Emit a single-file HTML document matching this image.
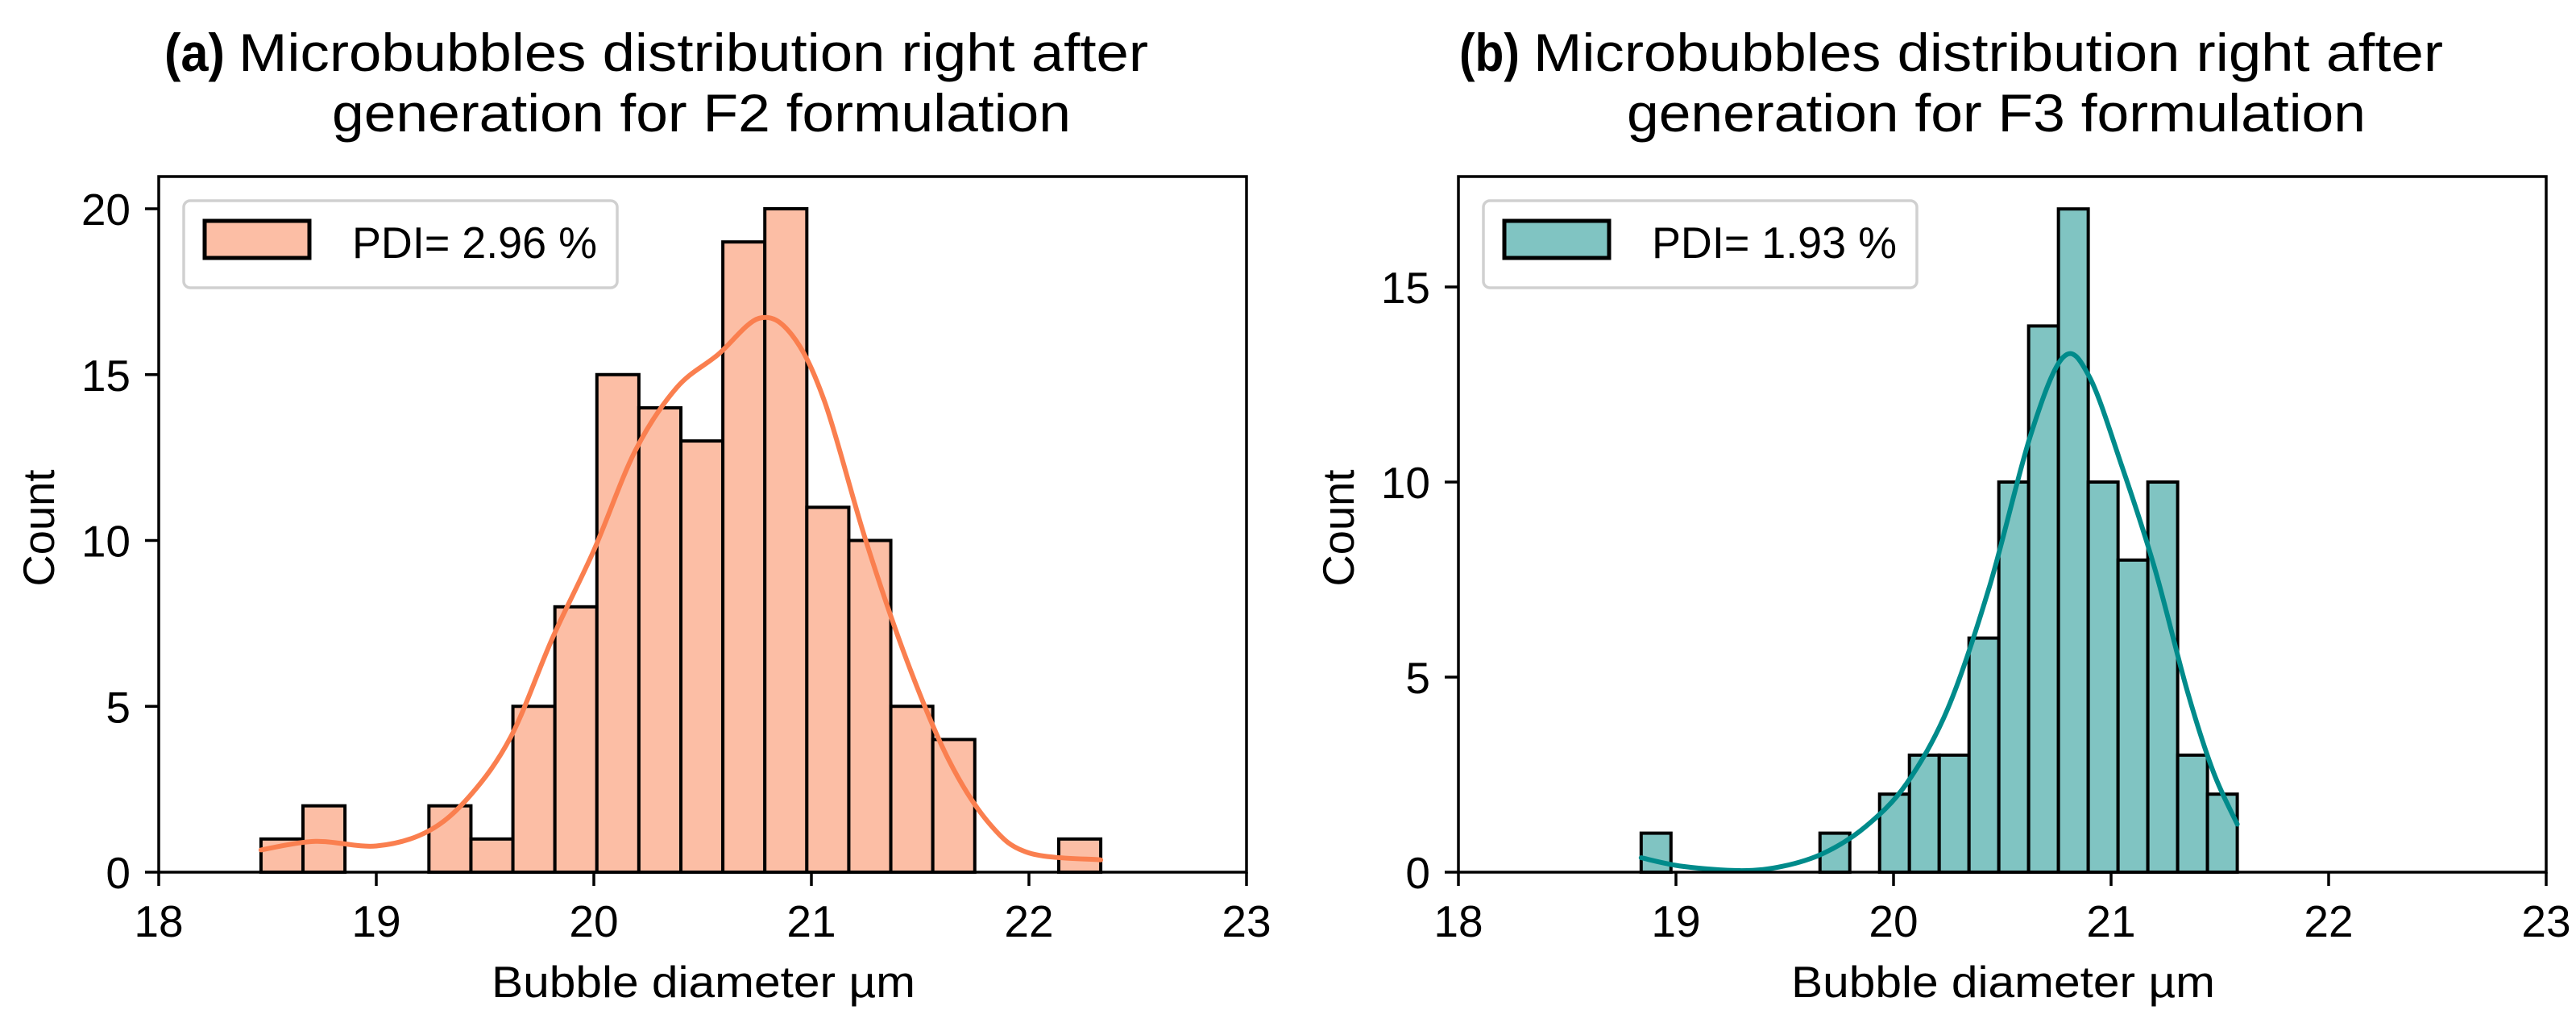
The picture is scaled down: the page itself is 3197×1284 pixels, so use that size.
<!DOCTYPE html>
<html><head><meta charset="utf-8"><style>
html,body{margin:0;padding:0;background:#fff;}
svg text{font-family:"Liberation Sans",sans-serif;fill:#000;}
</style></head><body>
<svg id="fig" width="3197" height="1279" viewBox="0 0 3197 1279" xmlns="http://www.w3.org/2000/svg"></svg>
<script>
// ---- Panel A data ----
const binStartA = 18.47;
const binWidthA = 0.193;
const countsA = [1,2,0,0,2,1,5,8,15,14,13,19,20,11,10,5,4,0,0,1];
const kdeXA = [18.47,18.72,19.0,19.24,19.43,19.62,19.81,20.0,20.19,20.38,20.57,20.76,20.91,21.06,21.25,21.44,21.63,21.82,22.0,22.33];
const kdeYA = [0.67,0.93,0.79,1.24,2.3,4.1,7.06,9.7,12.7,14.6,15.6,16.7,16.2,14.2,10.0,6.36,3.4,1.45,0.58,0.37];
const yTicksA = [0,5,10,15,20];
// ---- Panel B data ----
const binStartB = 18.84;
const binWidthB = 0.137;
const countsB = [1,0,0,0,0,0,1,0,2,3,3,6,10,14,17,10,8,10,3,2];
const kdeXB = [18.84,19.03,19.3,19.49,19.68,19.87,20.06,20.25,20.44,20.63,20.78,20.9,21.05,21.2,21.35,21.47,21.58];
const kdeYB = [0.37,0.15,0.04,0.15,0.49,1.16,2.27,4.2,7.3,11.2,13.2,12.7,10.4,7.8,4.65,2.57,1.23];
const yTicksB = [0,5,10,15];
const xTicks = [18,19,20,21,22,23];

const NS = "http://www.w3.org/2000/svg";
const svg = document.getElementById('fig');
function mk(tag, attrs, parent){
  const e = document.createElementNS(NS, tag);
  for (const k in attrs) e.setAttribute(k, attrs[k]);
  (parent||svg).appendChild(e);
  return e;
}

function panel(o){
  const g = mk('g', {});
  
  
  const L=o.left, R=o.left+1350, T=219, B=1082;
  const xs = v => L + (v-18)/5*(R-L);
  const ys = v => B - v*o.pxPer;
  // bars
  o.counts.forEach((c,i)=>{
    if(c<=0) return;
    const x0 = xs(o.start+i*o.width), x1 = xs(o.start+(i+1)*o.width);
    const r = mk('rect',{x:x0,y:ys(c),width:x1-x0,height:B-ys(c),fill:o.fill,stroke:'#000','stroke-width':4},g);
    
    
  });
  // kde
  const pts = o.kx.map((x,i)=>[xs(x),ys(o.ky[i])]);
  let d = 'M'+pts[0][0]+','+pts[0][1];
  for(let i=0;i<pts.length-1;i++){
    const p0=pts[Math.max(0,i-1)],p1=pts[i],p2=pts[i+1],p3=pts[Math.min(pts.length-1,i+2)];
    d+=' C'+(p1[0]+(p2[0]-p0[0])/6)+','+(p1[1]+(p2[1]-p0[1])/6)+' '+(p2[0]-(p3[0]-p1[0])/6)+','+(p2[1]-(p3[1]-p1[1])/6)+' '+p2[0]+','+p2[1];
  }
  const kde = mk('path',{d:d,fill:'none',stroke:o.line,'stroke-width':6,'stroke-linecap':'round'},g);
  
  
  // frame
  const fr = mk('rect',{x:L,y:T,width:R-L,height:B-T,fill:'none',stroke:'#000','stroke-width':3.5},g);
  
  
  // x ticks
  xTicks.forEach(v=>{
    mk('line',{x1:xs(v),x2:xs(v),y1:B,y2:B+17,stroke:'#000','stroke-width':3.5},g);
    const t = mk('text',{x:xs(v),y:1162,'font-size':55,'text-anchor':'middle'},g);
    t.textContent = v;
    
    
  });
  o.yt.forEach(v=>{
    mk('line',{x1:L-17,x2:L,y1:ys(v),y2:ys(v),stroke:'#000','stroke-width':3.5},g);
    const t = mk('text',{x:L-35,y:ys(v)+20,'font-size':55,'text-anchor':'end'},g);
    t.textContent = v;
    
    
  });
  const xl = mk('text',{x:L+676,y:1237,'font-size':55,'text-anchor':'middle',textLength:526,lengthAdjust:'spacingAndGlyphs'},g);
  xl.textContent = 'Bubble diameter µm';
  
  
  const yl = mk('text',{x:0,y:0,'font-size':55,'text-anchor':'middle',textLength:145,lengthAdjust:'spacingAndGlyphs',transform:'translate('+(o.left-130)+',655) rotate(-90)'},g);
  yl.textContent = 'Count';
  
  
  // legend
  const lg = mk('g',{},g);
  
  
  mk('rect',{x:L+31,y:249,width:538,height:108,rx:8,fill:'#fff',stroke:'#d0d0d0','stroke-width':3.5},lg);
  mk('rect',{x:L+57,y:274,width:130,height:46,fill:o.fill,stroke:'#000','stroke-width':5},lg);
  const lt = mk('text',{x:L+240,y:320,'font-size':55,textLength:304,lengthAdjust:'spacingAndGlyphs'},lg);
  lt.textContent = o.legend;
  // title
  const tb = mk('text',{x:o.tx,y:88,'font-size':66,'font-weight':'bold',textLength:75,lengthAdjust:'spacingAndGlyphs'},g);
  tb.textContent = o.tag;
  
  
  const t1 = mk('text',{x:o.tx+92,y:88,'font-size':66,textLength:1129,lengthAdjust:'spacingAndGlyphs'},g);
  t1.textContent = 'Microbubbles distribution right after';
  
  
  const t2 = mk('text',{x:o.tx+208,y:163,'font-size':66,textLength:917,lengthAdjust:'spacingAndGlyphs'},g);
  t2.textContent = o.title2;
  
  
}

panel({id:'f2',left:197,pxPer:41.15,start:binStartA,width:binWidthA,counts:countsA,kx:kdeXA,ky:kdeYA,yt:yTicksA,
  fill:'#fcbea5',line:'#fa7f4f',legend:'PDI= 2.96 %',tag:'(a)',tx:204,title2:'generation for F2 formulation'});
panel({id:'f3',left:1810,pxPer:48.4,start:binStartB,width:binWidthB,counts:countsB,kx:kdeXB,ky:kdeYB,yt:yTicksB,
  fill:'#80c4c2',line:'#008b8b',legend:'PDI= 1.93 %',tag:'(b)',tx:1811,title2:'generation for F3 formulation'});
</script>
</body></html>
